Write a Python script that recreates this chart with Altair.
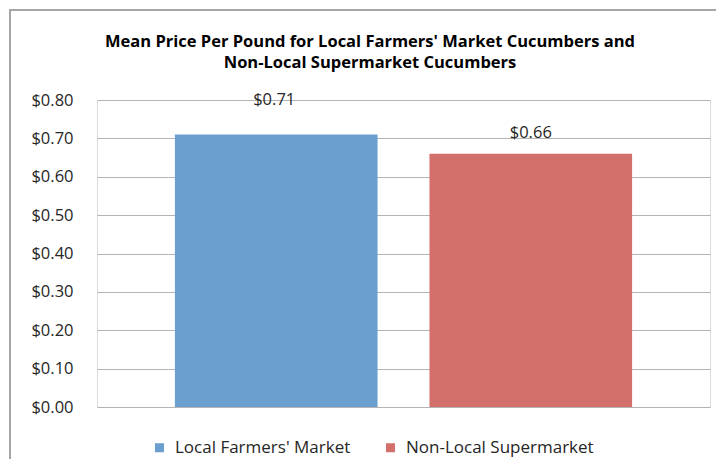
import altair as alt
import pandas as pd

series = ["Local Farmers' Market", "Non-Local Supermarket"]
prices = [0.71, 0.66]
price_labels = ["$0.71", "$0.66"]
colors = ["#6a9fcf", "#d4706b"]
y_ticks = [0.0, 0.1, 0.2, 0.3, 0.4, 0.5, 0.6, 0.7, 0.8]
title_lines = ["Mean Price Per Pound for Local Farmers' Market Cucumbers and",
               "Non-Local Supermarket Cucumbers"]

df = pd.DataFrame({"series": series, "price": prices, "label": price_labels})

FONT = "Open Sans"
TXT = "#262626"

x_enc = alt.X("series:N", sort=series, axis=None,
              scale=alt.Scale(paddingInner=0.204, paddingOuter=0.306))
y_enc = alt.Y("price:Q", title=None,
              scale=alt.Scale(domain=[0, 0.8], nice=False),
              axis=alt.Axis(values=y_ticks, format="$.2f", grid=True, domain=False,
                            ticks=False, labelPadding=24, labelFontSize=16.5,
                            labelFont=FONT, labelColor=TXT,
                            gridColor="#b4b4b4", gridWidth=1))

frame = alt.Chart(pd.DataFrame({"k": [0]})).mark_rect(
    fill=None, stroke="#a6a6a6", strokeWidth=2
).encode(x=alt.value(-87), x2=alt.value(800), y=alt.value(-90), y2=alt.value(500))

title1 = alt.Chart(pd.DataFrame({"t": [title_lines[0]]})).mark_text(
    font=FONT, fontSize=16.5, fontWeight="bold", color="#000000", baseline="middle"
).encode(x=alt.value(273), y=alt.value(-58), text="t:N")

title2 = alt.Chart(pd.DataFrame({"t": [title_lines[1]]})).mark_text(
    font=FONT, fontSize=16.5, fontWeight="bold", color="#000000", baseline="middle"
).encode(x=alt.value(273), y=alt.value(-37), text="t:N")

bars = alt.Chart(df).mark_bar().encode(
    x=x_enc, y=y_enc,
    color=alt.Color("series:N", sort=series,
                    scale=alt.Scale(domain=series, range=colors),
                    legend=alt.Legend(title=None, orient="none", direction="horizontal",
                                      legendX=54, legendY=339, symbolType="square",
                                      symbolSize=81, symbolStrokeWidth=0,
                                      labelFont=FONT, labelFontSize=17, labelLimit=400,
                                      labelColor=TXT, columnPadding=31,
                                      labelOffset=7))
)

text1 = alt.Chart(df).transform_filter(alt.datum.series == series[0]).mark_text(
    dy=-35, dx=-2, fontSize=16.5, font=FONT, color=TXT, baseline="middle"
).encode(x=x_enc, y=y_enc, text="label:N")

text2 = alt.Chart(df).transform_filter(alt.datum.series == series[1]).mark_text(
    dy=-21, fontSize=16.5, font=FONT, color=TXT, baseline="middle"
).encode(x=x_enc, y=y_enc, text="label:N")

chart = alt.layer(frame, title1, title2, bars, text1, text2).properties(
    width=613, height=307,
    autosize=alt.AutoSizeParams(type="none"),
    padding={"left": 89, "top": 92, "right": 6, "bottom": 52},
).configure_view(stroke=None).configure(background="white")

chart.save("out.html", embed_options={"renderer": "svg", "actions": False})
